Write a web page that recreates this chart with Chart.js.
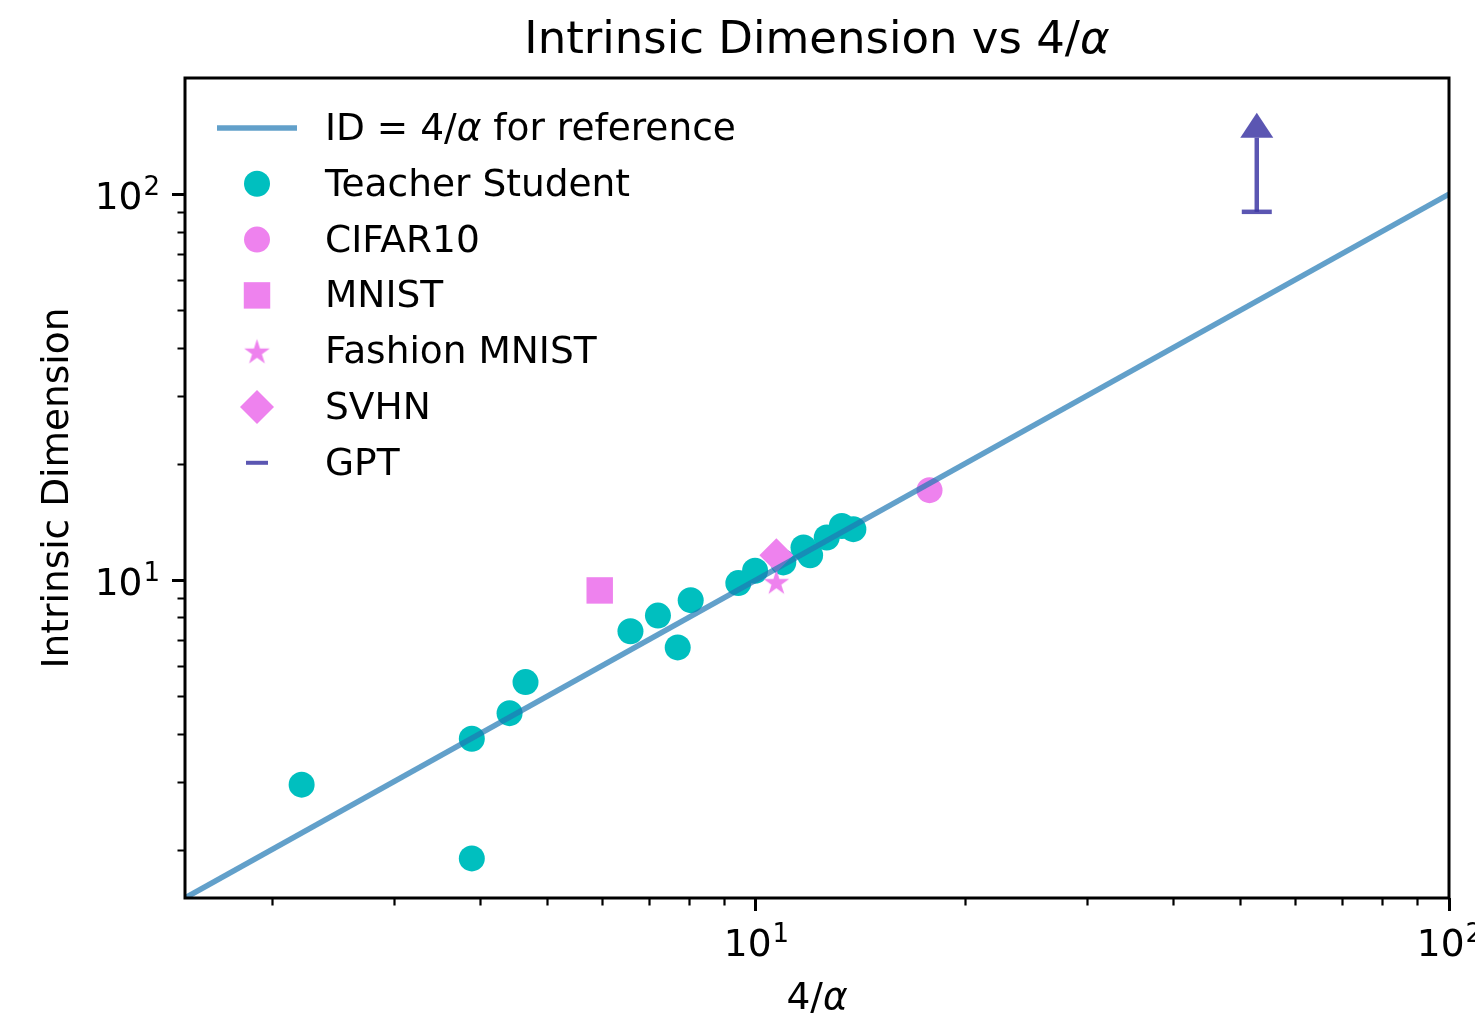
<!DOCTYPE html>
<html>
<head>
<meta charset="utf-8">
<title>Intrinsic Dimension vs 4/α</title>
<script src="https://cdn.jsdelivr.net/npm/chart.js@4.4.1/dist/chart.umd.min.js"></script>
<style>
  html, body { margin: 0; padding: 0; background: #ffffff; }
  #chart { display: block; }
</style>
</head>
<body>
<canvas id="chart" width="1475" height="1014"></canvas>
<script>
// ---- data -------------------------------------------------------------
// reference line ID = 4/alpha
const refLineX = [1.5, 100];
const refLineY = [1.5, 100];

// teacher-student runs (4/alpha, intrinsic dimension)
const teacherX = [2.21, 3.89, 3.89, 4.41, 4.65, 6.59, 7.22, 7.71, 8.05, 9.43, 9.97, 10.95, 11.71, 11.97, 12.65, 13.30, 13.82];
const teacherY = [2.95, 1.90, 3.88, 4.52, 5.44, 7.37, 8.09, 6.69, 8.87, 9.82, 10.57, 11.11, 12.14, 11.60, 12.89, 13.81, 13.55];

// image datasets
const cifarX = [17.8];   const cifarY = [17.1];
const mnistX = [5.95];   const mnistY = [9.4];
const fashionX = [10.7]; const fashionY = [9.9];
const svhnX = [10.7];    const svhnY = [11.6];

// GPT: lower bound only, drawn with an upward arrow
const gptX = [52.8];
const gptLower = [90];
const gptUpper = [140];

// axes
const xRange = [1.5, 100];
const yRange = [1.5, 200];
const xMajorTicks = [10, 100];
const xMinorTicks = [2, 3, 4, 5, 6, 7, 8, 9, 20, 30, 40, 50, 60, 70, 80, 90];
const yMajorTicks = [10, 100];
const yMinorTicks = [2, 3, 4, 5, 6, 7, 8, 9, 20, 30, 40, 50, 60, 70, 80, 90];
// tick labels as base + exponent (10^1, 10^2)
const tickBase = { 10: '10', 100: '10' };
const tickExp = { 10: '1', 100: '2' };

const seriesNames = ['ID = 4/\u03B1 for reference', 'Teacher Student', 'CIFAR10', 'MNIST', 'Fashion MNIST', 'SVHN', 'GPT'];

// ---- styling ----------------------------------------------------------
const FONT = "'DejaVu Sans', 'Liberation Sans', sans-serif";
const LINE_BLUE = 'rgba(31,119,180,0.7)';
const TEAL = '#00bfbf';
const VIOLET = '#ee82ee';
const GPT_COLOR = 'rgba(62,56,165,0.85)';
const FS = 37.5;      // label font size
const FS_EXP = 26;    // exponent font size

function pairs(xs, ys) { return xs.map((x, i) => ({ x: x, y: ys[i] })); }

// filled five-point star used as a point style
function starImage(R, color) {
  const size = Math.ceil(2 * R + 4);
  const cv = document.createElement('canvas');
  cv.width = size; cv.height = size;
  const g = cv.getContext('2d');
  const c = size / 2, r = R * 0.382;
  g.fillStyle = color;
  g.beginPath();
  for (let i = 0; i < 10; i++) {
    const a = -Math.PI / 2 + i * Math.PI / 5;
    const rr = (i % 2) ? r : R;
    g.lineTo(c + rr * Math.cos(a), c + rr * Math.sin(a) + R * 0.1);
  }
  g.closePath();
  g.fill();
  return cv;
}
const starStyle = starImage(13.5, VIOLET);
const starLegend = starImage(13.5, VIOLET);

function tickList(major, minor) {
  return major.map(v => ({ value: v, major: true }))
    .concat(minor.map(v => ({ value: v, major: false })))
    .sort((a, b) => a.value - b.value);
}

// mixed upright / italic text (the alpha is set in italic)
function drawRich(ctx, parts, x, y, size, align) {
  let total = 0;
  const widths = parts.map(p => {
    ctx.font = (p.it ? 'italic ' : '') + size + 'px ' + FONT;
    const w = ctx.measureText(p.t).width;
    total += w;
    return w;
  });
  let cx = align === 'center' ? x - total / 2 : (align === 'right' ? x - total : x);
  ctx.textAlign = 'left';
  ctx.textBaseline = 'alphabetic';
  parts.forEach((p, i) => {
    ctx.font = (p.it ? 'italic ' : '') + size + 'px ' + FONT;
    ctx.fillText(p.t, cx, y);
    cx += widths[i];
  });
}

// power-of-ten label: base with a raised exponent
function drawPow(ctx, v, x, y, align) {
  ctx.font = FS + 'px ' + FONT;
  const wb = ctx.measureText(tickBase[v]).width;
  ctx.font = FS_EXP + 'px ' + FONT;
  const we = ctx.measureText(tickExp[v]).width;
  const total = wb + we;
  const x0 = align === 'center' ? x - total / 2 : x - total;
  ctx.textAlign = 'left';
  ctx.textBaseline = 'alphabetic';
  ctx.font = FS + 'px ' + FONT;
  ctx.fillText(tickBase[v], x0, y);
  ctx.font = FS_EXP + 'px ' + FONT;
  ctx.fillText(tickExp[v], x0 + wb + 1, y - 14.3);
}

// ---- plugin: spines, minor ticks, tick labels, GPT arrow, titles, legend
const decorations = {
  id: 'decorations',
  afterDatasetsDraw(chart) {
    const ctx = chart.ctx;
    const xs = chart.scales.x, ys = chart.scales.y;
    // GPT lower-bound arrow
    ctx.save();
    ctx.strokeStyle = GPT_COLOR;
    ctx.fillStyle = GPT_COLOR;
    ctx.lineWidth = 4.5;
    gptX.forEach((gx, i) => {
      const px = xs.getPixelForValue(gx);
      const p0 = ys.getPixelForValue(gptLower[i]);
      const p1 = ys.getPixelForValue(gptUpper[i]);
      ctx.beginPath();
      ctx.moveTo(px, p0);
      ctx.lineTo(px, p1);
      ctx.stroke();
      ctx.beginPath();
      ctx.moveTo(px - 16.5, p1);
      ctx.lineTo(px + 16.5, p1);
      ctx.lineTo(px, p1 - 25);
      ctx.closePath();
      ctx.fill();
    });
    ctx.restore();
  },
  afterDraw(chart) {
    const ctx = chart.ctx;
    const a = chart.chartArea;
    const xs = chart.scales.x, ys = chart.scales.y;
    ctx.save();
    // minor ticks
    ctx.strokeStyle = '#000';
    ctx.lineWidth = 2.2;
    ctx.beginPath();
    xMinorTicks.forEach(v => {
      const px = Math.round(xs.getPixelForValue(v)) + 0.5;
      ctx.moveTo(px, a.bottom);
      ctx.lineTo(px, a.bottom + 7.5);
    });
    yMinorTicks.forEach(v => {
      const py = Math.round(ys.getPixelForValue(v)) + 0.5;
      ctx.moveTo(a.left - 7.5, py);
      ctx.lineTo(a.left, py);
    });
    ctx.stroke();
    // frame
    ctx.lineWidth = 3;
    ctx.strokeRect(a.left, a.top, a.right - a.left, a.bottom - a.top);

    // major tick labels
    ctx.fillStyle = '#000';
    xMajorTicks.forEach(v => drawPow(ctx, v, xs.getPixelForValue(v), a.bottom + 58, 'center'));
    yMajorTicks.forEach(v => drawPow(ctx, v, a.left - 26, ys.getPixelForValue(v) + 15, 'right'));

    // title and axis titles
    const cx = (a.left + a.right) / 2;
    drawRich(ctx, [{ t: 'Intrinsic Dimension vs 4/' }, { t: '\u03B1', it: true }], cx, 53, 45, 'center');
    drawRich(ctx, [{ t: '4/' }, { t: '\u03B1', it: true }], cx, 1009, FS, 'center');
    ctx.save();
    ctx.translate(68, (a.top + a.bottom) / 2);
    ctx.rotate(-Math.PI / 2);
    drawRich(ctx, [{ t: 'Intrinsic Dimension' }], 0, 0, FS, 'center');
    ctx.restore();

    // legend
    const lx = 257, tx = 325, row0 = 128, step = 55.8;
    chart.data.datasets.forEach((ds, i) => {
      const y = row0 + i * step;
      if (i === 0) {
        ctx.strokeStyle = ds.borderColor;
        ctx.lineWidth = ds.borderWidth;
        ctx.beginPath();
        ctx.moveTo(217, y);
        ctx.lineTo(297, y);
        ctx.stroke();
        ctx.fillStyle = '#000';
        drawRich(ctx, [{ t: 'ID = 4/' }, { t: '\u03B1', it: true }, { t: ' for reference' }], tx, y + 12, FS, 'left');
        return;
      }
      const st = ds.legendStyle;
      ctx.fillStyle = ds.backgroundColor;
      ctx.strokeStyle = ds.borderColor || ds.backgroundColor;
      ctx.lineWidth = st.borderWidth || 0;
      Chart.helpers.drawPoint(ctx, { pointStyle: st.pointStyle, radius: st.radius, rotation: 0, borderWidth: st.borderWidth || 0 }, lx, y);
      ctx.fillStyle = '#000';
      drawRich(ctx, [{ t: ds.label }], tx, y + 12, FS, 'left');
    });
    ctx.restore();
  }
};

// ---- chart ------------------------------------------------------------
Chart.defaults.font.family = FONT;
Chart.defaults.color = '#000';

new Chart(document.getElementById('chart'), {
  type: 'scatter',
  data: {
    datasets: [
      {
        label: seriesNames[0], data: pairs(refLineX, refLineY),
        showLine: true, borderColor: LINE_BLUE, borderWidth: 5.5,
        pointRadius: 0, order: 0
      },
      {
        label: seriesNames[1], data: pairs(teacherX, teacherY),
        backgroundColor: TEAL, pointStyle: 'circle', pointRadius: 13, pointBorderWidth: 0, order: 6,
        legendStyle: { pointStyle: 'circle', radius: 13 }
      },
      {
        label: seriesNames[2], data: pairs(cifarX, cifarY),
        backgroundColor: VIOLET, pointStyle: 'circle', pointRadius: 13, pointBorderWidth: 0, order: 5,
        legendStyle: { pointStyle: 'circle', radius: 13 }
      },
      {
        label: seriesNames[3], data: pairs(mnistX, mnistY),
        backgroundColor: VIOLET, pointStyle: 'rect', pointRadius: 18.7, pointBorderWidth: 0, order: 4,
        legendStyle: { pointStyle: 'rect', radius: 18.7 }
      },
      {
        label: seriesNames[4], data: pairs(fashionX, fashionY),
        backgroundColor: VIOLET, pointStyle: starStyle, pointRadius: 13.5, pointBorderWidth: 0, order: 3,
        legendStyle: { pointStyle: starLegend, radius: 13.5 }
      },
      {
        label: seriesNames[5], data: pairs(svhnX, svhnY),
        backgroundColor: VIOLET, pointStyle: 'rectRot', pointRadius: 17, pointBorderWidth: 0, order: 2,
        legendStyle: { pointStyle: 'rectRot', radius: 17 }
      },
      {
        label: seriesNames[6], data: pairs(gptX, gptLower),
        backgroundColor: GPT_COLOR, borderColor: GPT_COLOR, pointStyle: 'line', pointRadius: 15,
        pointBorderWidth: 4.5, order: 1,
        legendStyle: { pointStyle: 'line', radius: 11, borderWidth: 4 }
      }
    ]
  },
  options: {
    responsive: false,
    animation: false,
    devicePixelRatio: 1,
    events: [],
    layout: { padding: { top: 78, right: 26, left: 0, bottom: 0 } },
    plugins: { legend: { display: false }, title: { display: false }, tooltip: { enabled: false } },
    scales: {
      x: {
        type: 'logarithmic', position: 'bottom', min: xRange[0], max: xRange[1],
        afterBuildTicks: s => { s.ticks = tickList(xMajorTicks, xMinorTicks); },
        afterFit: s => { s.height = 116; s.paddingLeft = 0; s.paddingRight = 0; },
        border: { display: false },
        grid: {
          display: true, drawOnChartArea: false, drawTicks: true, tickLength: 13, tickWidth: 3,
          tickColor: c => (c.tick && c.tick.major) ? '#000' : 'rgba(0,0,0,0)'
        },
        ticks: { display: false, autoSkip: false }
      },
      y: {
        type: 'logarithmic', position: 'left', min: yRange[0], max: yRange[1],
        afterBuildTicks: s => { s.ticks = tickList(yMajorTicks, yMinorTicks); },
        afterFit: s => { s.width = 185; s.paddingTop = 0; s.paddingBottom = 0; },
        border: { display: false },
        grid: {
          display: true, drawOnChartArea: false, drawTicks: true, tickLength: 13, tickWidth: 3,
          tickColor: c => (c.tick && c.tick.major) ? '#000' : 'rgba(0,0,0,0)'
        },
        ticks: { display: false, autoSkip: false }
      }
    }
  },
  plugins: [decorations]
});
</script>
</body>
</html>
